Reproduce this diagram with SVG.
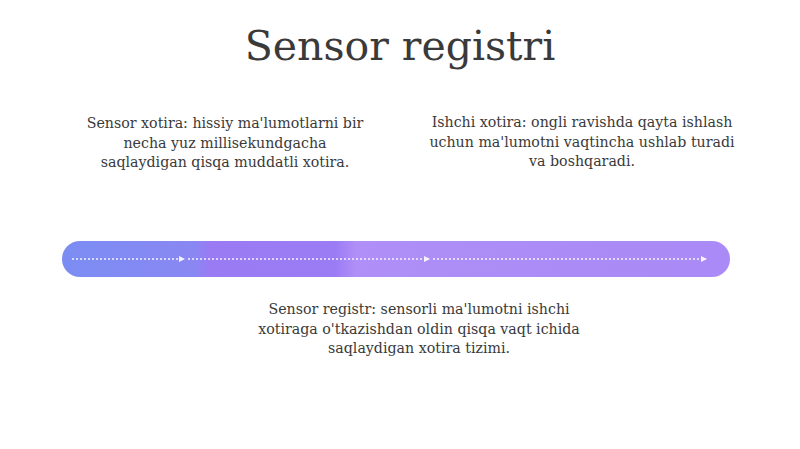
<svg xmlns="http://www.w3.org/2000/svg" width="800" height="449" viewBox="0 0 800 449">
<style>
.t{font-family:"DejaVu Serif","Liberation Serif",serif;fill:#3a3a3a;text-anchor:middle}
.d{font-size:14.2px}
.c{stroke:#ffffff;stroke-width:1.5;stroke-dasharray:2 2;fill:none;opacity:0.9}
</style>
<defs>
<linearGradient id="g" x1="62" y1="0" x2="730" y2="0" gradientUnits="userSpaceOnUse">
<stop offset="0" stop-color="#7b8df2"/>
<stop offset="0.2" stop-color="#8a87f3"/>
<stop offset="0.22" stop-color="#9a7bf3"/>
<stop offset="0.41" stop-color="#9c7cf4"/>
<stop offset="0.44" stop-color="#b08ff7"/>
<stop offset="0.55" stop-color="#ad8ef7"/>
<stop offset="1" stop-color="#a98af6"/>
</linearGradient>
<marker id="a" markerWidth="6" markerHeight="6" refX="5" refY="3" orient="auto" markerUnits="userSpaceOnUse">
<path d="M0,0 L6,3 L0,6 Z" fill="#ffffff"/>
</marker>
</defs>
<rect width="800" height="449" fill="#ffffff"/>
<text class="t" x="400" y="60" font-size="41">Sensor registri</text>
<g id="node-sensor-xotira">
<text class="t d" x="225" y="128">Sensor xotira: hissiy ma'lumotlarni bir</text>
<text class="t d" x="225" y="147.5">necha yuz millisekundgacha</text>
<text class="t d" x="225" y="167">saqlaydigan qisqa muddatli xotira.</text>
</g>
<g id="node-ishchi-xotira">
<text class="t d" x="582" y="127">Ishchi xotira: ongli ravishda qayta ishlash</text>
<text class="t d" x="582" y="146.5">uchun ma'lumotni vaqtincha ushlab turadi</text>
<text class="t d" x="582" y="166">va boshqaradi.</text>
</g>
<g id="node-bar">
<rect x="62" y="241" width="668" height="36" rx="18" fill="url(#g)"/>
</g>
<g id="node-sensor-registr">
<text class="t d" x="419" y="314">Sensor registr: sensorli ma'lumotni ishchi</text>
<text class="t d" x="419" y="333.5">xotiraga o'tkazishdan oldin qisqa vaqt ichida</text>
<text class="t d" x="419" y="353">saqlaydigan xotira tizimi.</text>
</g>
<g id="connectors">
<line class="c" x1="72" y1="259" x2="184" y2="259" marker-end="url(#a)"/>
<line class="c" x1="188" y1="259" x2="429" y2="259" marker-end="url(#a)"/>
<line class="c" x1="433" y1="259" x2="706" y2="259" marker-end="url(#a)"/>
</g>
</svg>
